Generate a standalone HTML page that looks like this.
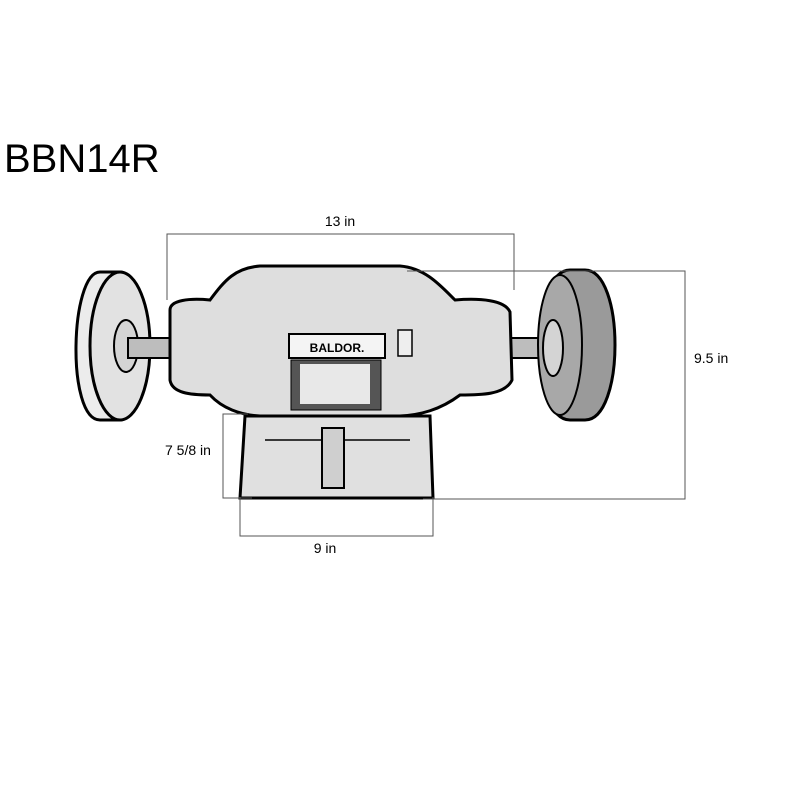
<!DOCTYPE html>
<html><head><style>
body{margin:0;background:#fff;}
svg{display:block}
text{font-family:"Liberation Sans",sans-serif;}
</style></head><body>
<svg width="800" height="800" viewBox="0 0 800 800" xmlns="http://www.w3.org/2000/svg">
<rect width="800" height="800" fill="#fff"/>
<text x="4" y="172" font-size="40" fill="#000">BBN14R</text>

<g stroke="#000" stroke-width="3">
<path d="M100 272 C70 272 66 420 100 420 L120 420 C150 420 150 272 120 272 Z" fill="#ececec"/>
<ellipse cx="120" cy="346" rx="30" ry="74" fill="#e2e2e2"/>
<ellipse cx="126" cy="346" rx="12" ry="26" fill="#d4d4d4" stroke-width="2"/>
</g>
<rect x="128" y="338" width="42" height="20" fill="#bdbdbd" stroke="#000" stroke-width="2"/>
<rect x="505" y="338" width="48" height="20" fill="#bdbdbd" stroke="#000" stroke-width="2"/>
<g stroke="#000" stroke-width="3">
<path d="M585 270 C625 270 625 420 585 420 L570 420 C530 420 530 270 570 270 Z" fill="#9a9a9a"/>
<ellipse cx="560" cy="345" rx="22" ry="70" fill="#a8a8a8" stroke-width="2"/>
<ellipse cx="553" cy="348" rx="10" ry="28" fill="#d4d4d4" stroke-width="2"/>
</g>
<g stroke="#000" stroke-width="3" fill="#dedede">
<path d="M170 310 C170 300 190 298 210 300 C225 280 235 268 260 266 L400 266 C425 268 440 285 455 300 C480 298 505 300 510 312 L512 380 C505 395 480 395 460 395 C440 410 420 415 400 416 L260 416 C240 415 222 408 210 395 C190 395 172 393 170 380 Z"/>
</g>
<rect x="289" y="334" width="96" height="24" fill="#f4f4f4" stroke="#000" stroke-width="2"/>
<text x="337" y="352" font-size="12" text-anchor="middle" font-family="Liberation Serif" font-weight="bold">BALDOR.</text>
<rect x="291" y="360" width="90" height="50" fill="#555" stroke="#000"/>
<rect x="300" y="364" width="70" height="40" fill="#e8e8e8"/>
<rect x="398" y="330" width="14" height="26" fill="#eee" stroke="#000" stroke-width="1.5"/>
<path d="M245 416 L430 416 L433 498 L240 498 Z" fill="#e0e0e0" stroke="#000" stroke-width="3"/>
<path d="M265 440 L410 440" stroke="#000" stroke-width="1.5"/>
<rect x="322" y="428" width="22" height="60" fill="#cfcfcf" stroke="#000" stroke-width="2"/>

<g stroke="#555" stroke-width="1" fill="none">
<path d="M167 300 L167 234 L514 234 L514 290"/>
<path d="M407 271 L685 271 L685 499 L423 499"/>
<path d="M248 414 L223 414 L223 498 L252 498"/>
<path d="M240 497 L240 536 L433 536 L433 497"/>
</g>
<g font-size="14" fill="#000">
<text x="340" y="226" text-anchor="middle">13 in</text>
<text x="694" y="363">9.5 in</text>
<text x="165" y="455">7 5/8 in</text>
<text x="325" y="553" text-anchor="middle">9 in</text>
</g>
</svg>
</body></html>
